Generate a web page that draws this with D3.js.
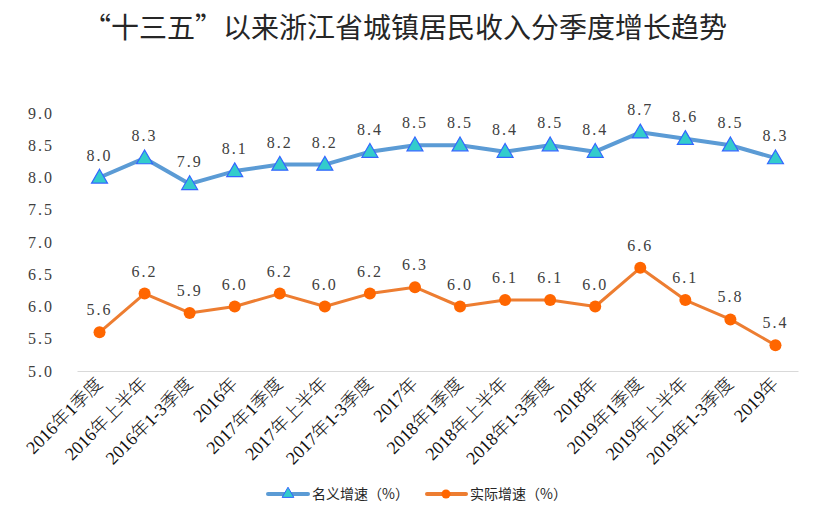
<!DOCTYPE html>
<html><head><meta charset="utf-8">
<script src="https://cdn.jsdelivr.net/npm/d3@7"></script>
<style>body{margin:0;background:#fff}svg{display:block}</style>
</head><body>
<svg id="c" width="827" height="517"></svg>
<script>
const categories = ["2016年1季度","2016年上半年","2016年1-3季度","2016年","2017年1季度","2017年上半年","2017年1-3季度","2017年","2018年1季度","2018年上半年","2018年1-3季度","2018年","2019年1季度","2019年上半年","2019年1-3季度","2019年"];
const nominal = [8.0,8.3,7.9,8.1,8.2,8.2,8.4,8.5,8.5,8.4,8.5,8.4,8.7,8.6,8.5,8.3];
const real = [5.6,6.2,5.9,6.0,6.2,6.0,6.2,6.3,6.0,6.1,6.1,6.0,6.6,6.1,5.8,5.4];
const yTicks = [5.0,5.5,6.0,6.5,7.0,7.5,8.0,8.5,9.0];
const seriesNames = ["名义增速（%）","实际增速（%）"];
const title = "“十三五”以来浙江省城镇居民收入分季度增长趋势";

const svg = d3.select("#c");
const x = d3.scaleBand().domain(categories).range([77, 798]);
const y = d3.scaleLinear().domain([5, 9]).range([371, 113]);
const cx = d => x(d) + x.bandwidth()/2;
const serif = "'Liberation Serif','DejaVu Serif',serif";

svg.append("text").attr("x", 405).attr("y", 38).attr("text-anchor","middle")
  .attr("font-family","'Noto Sans CJK SC',sans-serif").attr("font-size",28).attr("fill","#262626").text(title);

// y axis labels
const ya = svg.append("g").attr("transform","translate(54,0)")
  .call(d3.axisLeft(y).tickValues(yTicks).tickFormat(d3.format(".1f")).tickSize(0).tickPadding(0));
ya.select(".domain").remove();
ya.selectAll("text").attr("font-family",serif).attr("font-size",16).attr("fill","#404040").attr("letter-spacing","2px");

// x axis
const xa = svg.append("g").attr("transform","translate(0,371)")
  .call(d3.axisBottom(x).tickSize(0).tickPadding(0));
xa.select(".domain").attr("stroke","#d9d9d9").attr("stroke-width",1);
xa.selectAll("text").attr("font-family","'Liberation Serif','Noto Sans CJK SC',serif").attr("font-weight",300).attr("font-size",18).attr("fill","#111")
  .attr("text-anchor","end").attr("dy",null).attr("y",0)
  .attr("transform","translate(4,14) rotate(-45)");

const line = d3.line().x((d,i)=>cx(categories[i])).y(d=>y(d));

// nominal
svg.append("path").datum(nominal).attr("d",line).attr("fill","none").attr("stroke","#5B9BD5").attr("stroke-width",4).attr("stroke-linejoin","round");
const tri = d3.symbol().type(d3.symbolTriangle).size(110);
svg.append("g").selectAll("path").data(nominal).join("path")
  .attr("d",tri).attr("transform",(d,i)=>`translate(${cx(categories[i])},${y(d)+1})`)
  .attr("fill","#33CCCC").attr("stroke","#3366FF").attr("stroke-width",1.2);
svg.append("g").selectAll("text").data(nominal).join("text")
  .attr("x",(d,i)=>cx(categories[i])).attr("y",d=>y(d)-17).attr("text-anchor","middle")
  .attr("font-family",serif).attr("font-size",16).attr("fill","#404040").attr("letter-spacing","2px")
  .text(d=>d3.format(".1f")(d));

// real
svg.append("path").datum(real).attr("d",line).attr("fill","none").attr("stroke","#ED7D31").attr("stroke-width",3).attr("stroke-linejoin","round");
svg.append("g").selectAll("circle").data(real).join("circle")
  .attr("cx",(d,i)=>cx(categories[i])).attr("cy",d=>y(d)).attr("r",6).attr("fill","#FF6600");
svg.append("g").selectAll("text").data(real).join("text")
  .attr("x",(d,i)=>cx(categories[i])).attr("y",d=>y(d)-17).attr("text-anchor","middle")
  .attr("font-family",serif).attr("font-size",16).attr("fill","#404040").attr("letter-spacing","2px")
  .text(d=>d3.format(".1f")(d));

// legend
const lg = svg.append("g");
lg.append("line").attr("x1",268).attr("x2",308).attr("y1",494).attr("y2",494).attr("stroke","#5B9BD5").attr("stroke-width",4).attr("stroke-linecap","round");
lg.append("path").attr("d",d3.symbol().type(d3.symbolTriangle).size(60)).attr("transform","translate(288,494)").attr("fill","#33CCCC").attr("stroke","#3366FF");
lg.append("text").attr("x",312).attr("y",499).attr("font-family","'Noto Sans CJK SC',sans-serif").attr("font-size",14).attr("fill","#262626").text(seriesNames[0]);
lg.append("line").attr("x1",427).attr("x2",466).attr("y1",494).attr("y2",494).attr("stroke","#ED7D31").attr("stroke-width",4).attr("stroke-linecap","round");
lg.append("circle").attr("cx",446).attr("cy",494).attr("r",4.5).attr("fill","#FF6600");
lg.append("text").attr("x",470).attr("y",499).attr("font-family","'Noto Sans CJK SC',sans-serif").attr("font-size",14).attr("fill","#262626").text(seriesNames[1]);
</script>
</body></html>
